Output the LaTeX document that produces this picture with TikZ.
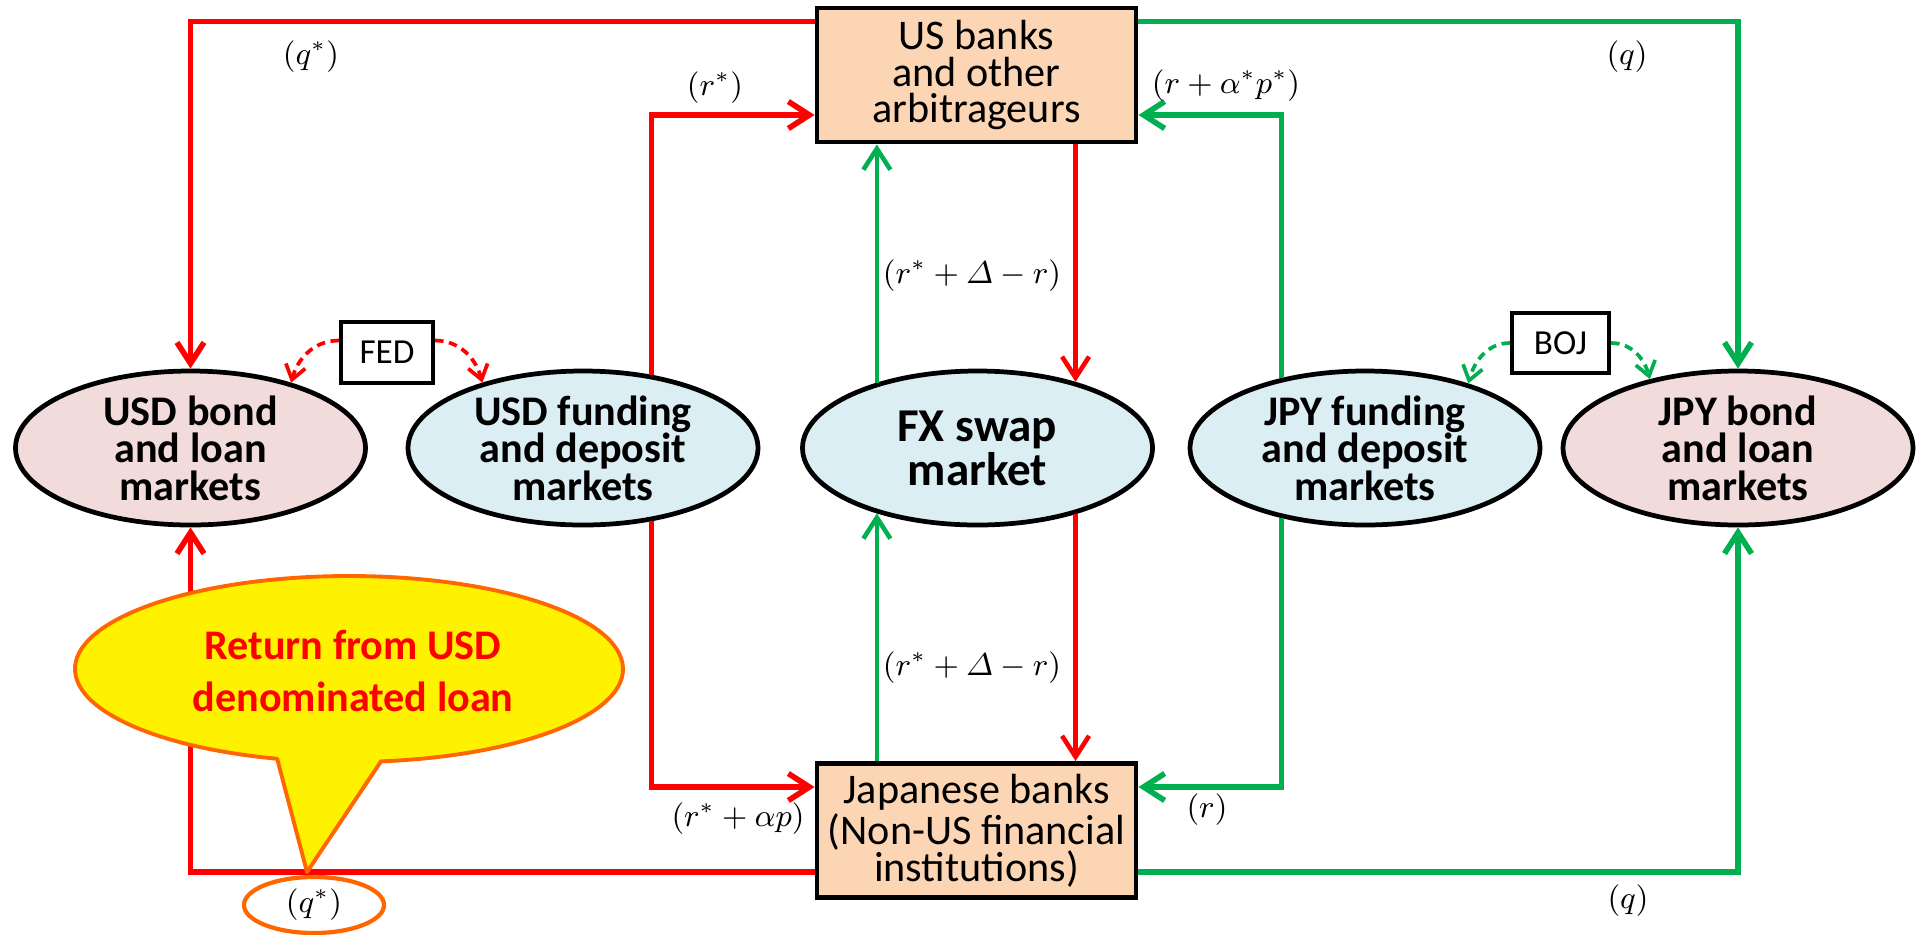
\documentclass[tikz,border=0pt]{standalone}
\usepackage{amsmath}
\usepackage{fontspec}
\setmainfont{Carlito}
\usetikzlibrary{arrows.meta,shapes.geometric}
\definecolor{usdred}{RGB}{255,0,0}
\definecolor{jpygreen}{RGB}{0,176,80}
\definecolor{bankpeach}{RGB}{252,213,180}
\definecolor{bondpink}{RGB}{242,220,219}
\definecolor{fundblue}{RGB}{219,238,244}
\definecolor{noteorange}{RGB}{255,102,0}

\begin{document}
\begin{tikzpicture}[>={Straight Barb[length=2.1mm,width=2.7mm]},
  bank/.style={draw,line width=1.4pt,fill=bankpeach,minimum width=3.19cm,minimum height=1.34cm,inner sep=0pt,align=center,font=\fontsize{12}{10.5}\selectfont},
  mkt/.style={ellipse,draw,line width=1.35pt,minimum width=3.5cm,minimum height=1.54cm,inner sep=0pt,align=center,font=\bfseries\fontsize{12}{10.7}\selectfont},
  cbank/.style={draw,line width=1.2pt,minimum width=0.92cm,minimum height=0.61cm,inner sep=0pt,font=\fontsize{10}{12}\selectfont},
  rate/.style={inner sep=0pt,font=\fontsize{8.7}{10}\selectfont},
  usdflow/.style={usdred,line width=1.6pt},
  jpyflow/.style={jpygreen,line width=1.6pt},
  swapflow/.style={line width=1.3pt},
  cbflow/.style={line width=1.05pt,dash pattern=on 2.4pt off 1.6pt,-{Straight Barb[length=1.4mm,width=2mm]}}]
  \useasboundingbox (0,0) rectangle (19.32,9.34);

  \node[bank] (usbank) at (9.765,8.59) {US banks\\and other\\arbitrageurs};
  \node[bank] (jpbank) at (9.765,1.035) {Japanese banks\\(Non-US financial\\institutions)};
  \node[mkt,fill=bondpink] (usdbond) at (1.905,4.86) {USD bond\\and loan\\markets};
  \node[mkt,fill=fundblue] (usdfund) at (5.83,4.86) {USD funding\\and deposit\\markets};
  \node[mkt,fill=fundblue,font=\bfseries\fontsize{13.4}{10.8}\selectfont] (fxswap) at (9.775,4.86) {FX swap\\market};
  \node[mkt,fill=fundblue] (jpyfund) at (13.65,4.86) {JPY funding\\and deposit\\markets};
  \node[mkt,fill=bondpink] (jpybond) at (17.38,4.86) {JPY bond\\and loan\\markets};
  \node[cbank] (fed) at (3.87,5.815) {FED};
  \node[cbank,minimum width=0.97cm,minimum height=0.6cm] (boj) at (15.605,5.91) {BOJ};

  \draw[usdflow,->] ([yshift=-0.16cm]usbank.north west) -| (usdbond.north);
  \draw[jpyflow,->] ([yshift=-0.16cm]usbank.north east) -| (jpybond.north);
  \draw[usdflow,->] (usdfund.47) |- ([yshift=-0.4cm]usbank.west);
  \draw[jpyflow,->] (jpyfund.140) |- ([yshift=-0.4cm]usbank.east);
  \draw[usdflow,->] (usdfund.-47) |- ([yshift=0.435cm]jpbank.west);
  \draw[jpyflow,->] (jpyfund.220) |- ([yshift=0.435cm]jpbank.east);
  \draw[usdflow,->] ([yshift=-0.415cm]jpbank.west) -| (usdbond.south);
  \draw[jpyflow,->] ([yshift=-0.415cm]jpbank.east) -| (jpybond.south);

  \draw[swapflow,jpygreen,->] (fxswap.147) -- (fxswap.147 |- usbank.south);
  \draw[swapflow,usdred,->] (usbank.south -| fxswap.34) -- (fxswap.34);
  \draw[swapflow,jpygreen,->] (jpbank.north -| fxswap.213) -- (fxswap.213);
  \draw[swapflow,usdred,->] (fxswap.-34) -- (fxswap.-34 |- jpbank.north);

  \draw[cbflow,usdred] ([yshift=0.12cm]fed.west) to[out=180,in=75] (usdbond.33);
  \draw[cbflow,usdred] ([yshift=0.12cm]fed.east) to[out=0,in=105] (usdfund.147);
  \draw[cbflow,jpygreen] (boj.west) to[out=180,in=75] (jpyfund.32);
  \draw[cbflow,jpygreen] (boj.east) to[out=0,in=105] (jpybond.142);

  \node[rate] (qstop) at (3.11,8.77) {$(q^*)$};
  \node[rate] (rstop) at (7.15,8.46) {$(r^*)$};
  \node[rate] (rapstop) at (12.26,8.48) {$(r+\alpha^*p^*)$};
  \node[rate] (qtop) at (16.27,8.77) {$(q)$};
  \node[rate] (swaptop) at (9.72,6.58) {$(r^*+\varDelta-r)$};
  \node[rate] (swapbot) at (9.72,2.66) {$(r^*+\varDelta-r)$};
  \node[rate] (rsapbot) at (7.38,1.15) {$(r^*+\alpha p)$};
  \node[rate] (rbot) at (12.07,1.24) {$(r)$};
  \node[rate] (qbot) at (16.28,0.33) {$(q)$};

  \coordinate (tip) at (3.07,0.62);
  \filldraw[fill=yellow,draw=noteorange,line width=1.1pt,line join=round] (3.49,2.65) ++(-83.3:2.74 and 0.93)
    arc[start angle=-83.3,end angle=254.8,x radius=2.74,y radius=0.93] -- (tip) -- cycle;
  \node[align=center,text=usdred,font=\bfseries\fontsize{12}{14.8}\selectfont] (ret) at (3.53,2.63) {Return from USD\\denominated loan};
  \node[rate,ellipse,draw=noteorange,line width=1.2pt,minimum width=1.4cm,minimum height=0.56cm] (qsbot) at (3.14,0.29) {$(q^*)$};
\end{tikzpicture}
\end{document}
